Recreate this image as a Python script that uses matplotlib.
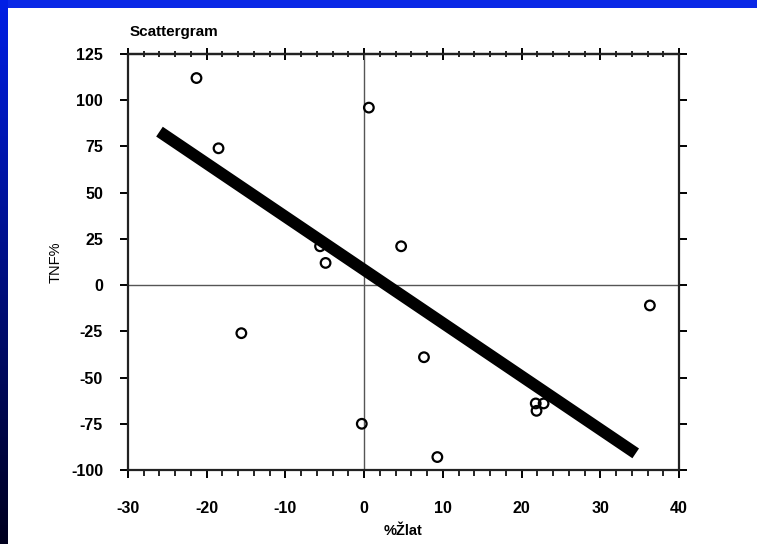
import numpy as np
import matplotlib
matplotlib.use("Agg")
import matplotlib.pyplot as plt
from matplotlib.ticker import MultipleLocator

# Observations: change in fat (%) vs. change in TNF (%)
x_vals = [-21.3, -18.5, 0.6, -5.6, -4.9, 4.7, -15.6, 7.6, -0.3, 9.3, 21.8, 22.8, 21.9, 36.3]
y_vals = [112, 74, 96, 21, 12, 21, -26, -39, -75, -93, -64, -64, -68, -11]

# Regression line end points
fit_x = [-26.0, 34.5]
fit_y = [83.0, -91.0]

x_ticks = [-30, -20, -10, 0, 10, 20, 30, 40]
y_ticks = [-100, -75, -50, -25, 0, 25, 50, 75, 100, 125]

plt.rcParams["font.family"] = ["Liberation Sans", "DejaVu Sans"]
plt.rcParams["axes.unicode_minus"] = False

W, H = 757, 544
fig = plt.figure(figsize=(W / 100, H / 100), dpi=100)
fig.patch.set_facecolor("white")

# blue slide frame: top band and a left band fading to black
top = fig.add_axes([0, 1 - 8 / H, 1, 8 / H])
top.set_facecolor("#0a28e6")
top.set_xticks([]); top.set_yticks([])
for s in top.spines.values():
    s.set_visible(False)
left = fig.add_axes([0, 0, 7 / W, 1])
grad = np.linspace(0, 1, 256)
cols = np.zeros((256, 1, 3))
cols[:, 0, 2] = 0.12 + 0.78 * grad
cols[:, 0, 1] = 0.12 * grad
left.imshow(cols, aspect="auto", origin="lower", extent=[0, 1, 0, 1])
left.set_axis_off()

ax = fig.add_axes([128 / W, 1 - 470 / H, (679 - 128) / W, (470 - 54) / H])
ax.set_xlim(-30, 40)
ax.set_ylim(-100, 125)

ax.axhline(0, color="#555555", lw=1.0, zorder=1)
ax.axvline(0, color="#555555", lw=1.0, zorder=1)

ax.scatter(x_vals, y_vals, s=48, facecolors="none", edgecolors="black",
           linewidths=1.6, zorder=2)
ax.plot(fit_x, fit_y, color="black", lw=8.5, solid_capstyle="butt", zorder=3)

for s in ax.spines.values():
    s.set_linewidth(1.6)
    s.set_color("#222222")

ax.set_xticks(x_ticks)
ax.set_yticks(y_ticks)
ax.xaxis.set_minor_locator(MultipleLocator(2))
ax.tick_params(axis="x", which="major", direction="out", length=6, width=1.4,
               labelsize=11.5, pad=16)
ax.tick_params(axis="x", which="minor", direction="out", length=4, width=1.2)
ax.tick_params(axis="y", which="major", direction="out", length=6, width=1.4,
               right=True, labelsize=11.5, pad=12)
for lab in ax.get_xticklabels() + ax.get_yticklabels():
    lab.set_fontweight("bold")

# top axis: ticks straddling the frame line
sec = ax.secondary_xaxis("top")
sec.set_xticks(x_ticks)
sec.xaxis.set_minor_locator(MultipleLocator(2))
sec.tick_params(which="major", direction="inout", length=9, width=1.4, labeltop=False)
sec.tick_params(which="minor", direction="inout", length=4, width=1.2)
sec.spines["top"].set_linewidth(1.6)
sec.spines["top"].set_color("#222222")

ax.set_xlabel("%Žlat", fontsize=10.5, fontweight="bold", labelpad=6)
ax.set_ylabel("TNF%", fontsize=10.5, labelpad=6)
ax.text(0.003, 1.035, "Scattergram", transform=ax.transAxes, fontsize=11,
        fontweight="bold", ha="left", va="bottom")

fig.savefig("out.png", dpi=100)
